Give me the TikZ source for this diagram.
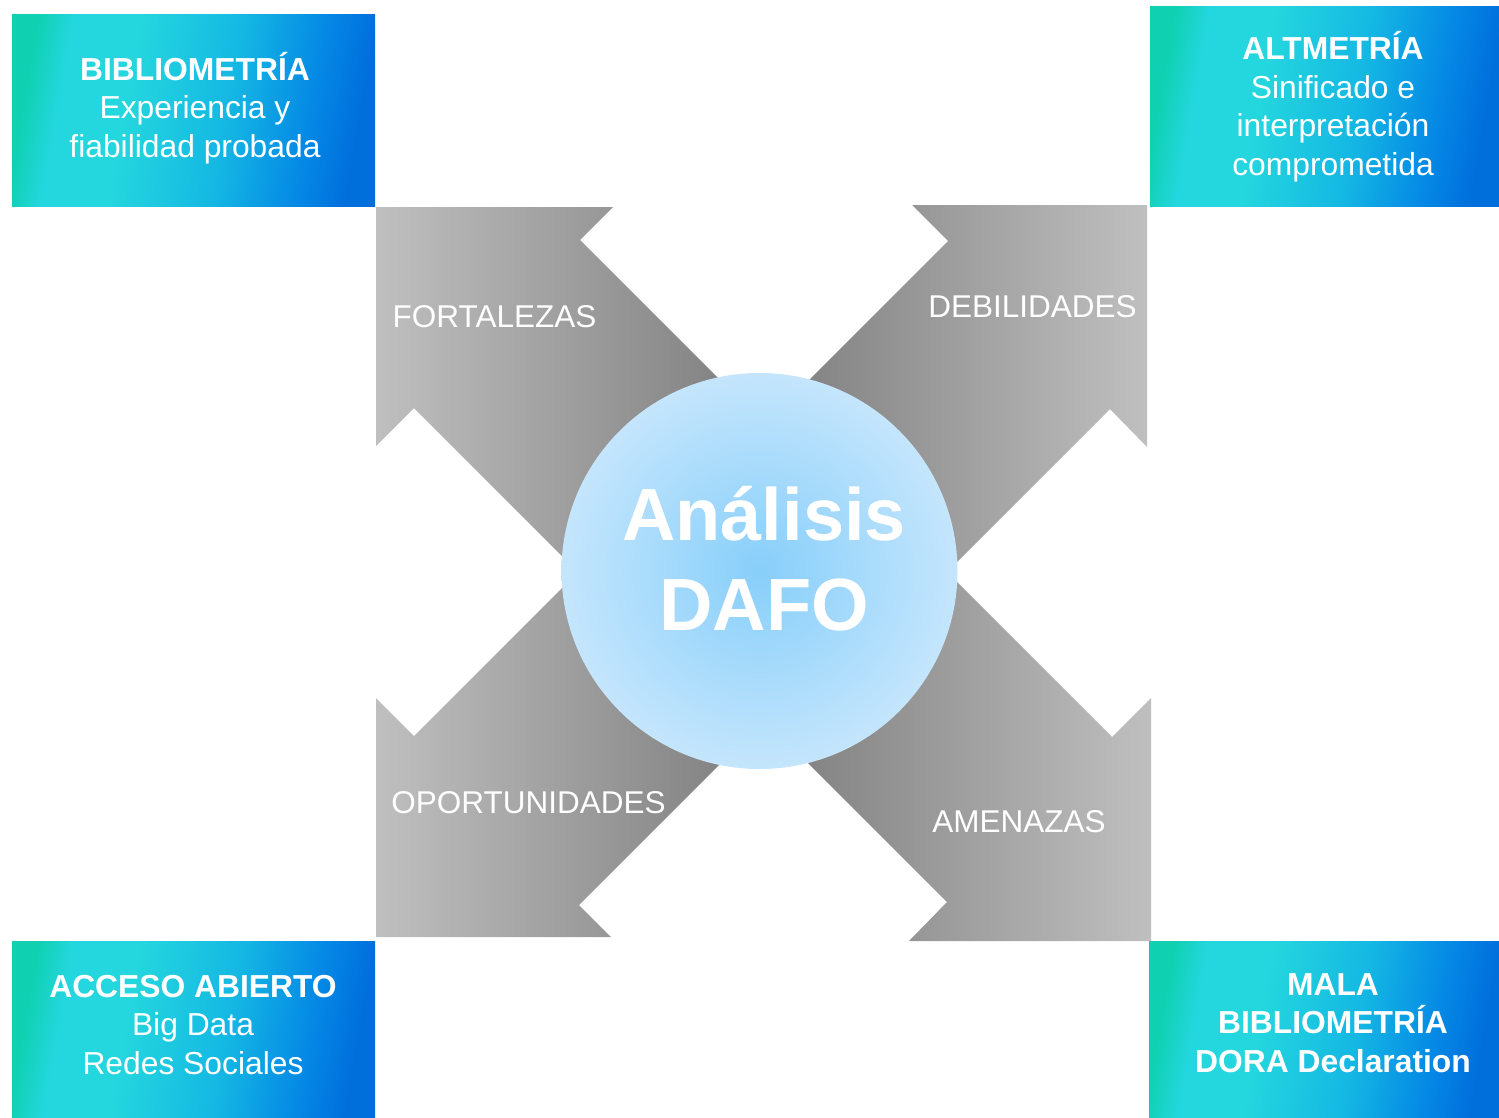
\documentclass[tikz,border=0pt]{standalone}
\usepackage{fontspec}
\setmainfont{Liberation Sans}
\usepackage{pgf,tikz}
\definecolor{bfbfbf}{rgb}{0.75,0.75,0.75}
\definecolor{gris7f}{rgb}{0.5,0.5,0.5}
\definecolor{ccqqff}{rgb}{0.53,0.81,0.98}
\definecolor{cceeff}{rgb}{0.77,0.9,0.99}
\definecolor{qqddaa}{rgb}{0.06,0.82,0.7}
\definecolor{qqddee}{rgb}{0.14,0.84,0.87}
\definecolor{qqbbee}{rgb}{0.08,0.72,0.89}
\definecolor{qq88ee}{rgb}{0.02,0.54,0.9}
\definecolor{qq55cc}{rgb}{0,0.43,0.86}
\pgfdeclarehorizontalshading{cajas}{100bp}{color(0bp)=(qqddaa); color(25bp)=(qqddaa); color(30bp)=(qqddee); color(40bp)=(qqddee); color(55bp)=(qqbbee); color(67bp)=(qq88ee); color(75bp)=(qq55cc); color(100bp)=(qq55cc)}

\begin{document}
\begin{tikzpicture}[line cap=round,line join=round,x=1pt,y=-1pt,
	caja/.style={white,align=center,anchor=base,inner sep=0pt,font=\fontsize{31.8}{38.5}\selectfont},
	etiqueta/.style={white,anchor=base,inner sep=0pt,font=\fontsize{31.5}{38}\selectfont}]
		\clip(0,0) rectangle (1499,1117);
		% flechas
		\shade[left color=bfbfbf,right color=gris7f] (376,207) -- (613,207) -- (580,240) -- (745,405) -- (578,572) -- (414,408) -- (376,446) -- cycle;
		\shade[left color=gris7f,right color=bfbfbf] (1147,205) -- (912,205) -- (948,241) -- (780,409) -- (945,574) -- (1110,409) -- (1147,447) -- cycle;
		\shade[left color=bfbfbf,right color=gris7f] (376,937) -- (376,698) -- (414,736) -- (578,572) -- (745,739) -- (579,905) -- (611,937) -- cycle;
		\shade[left color=gris7f,right color=bfbfbf] (1151,941) -- (1151,698) -- (1112,737) -- (945,570) -- (780,735) -- (947,902) -- (909,941) -- cycle;
		% circulo
		\shade[inner color=ccqqff,outer color=cceeff] (759.5,571) circle (198pt);
		% cajas
		\shade[shading=cajas,shading angle=-10] (12,14) rectangle (375,206);
		\shade[shading=cajas,shading angle=-10] (1150,6) rectangle (1499,206);
		\shade[shading=cajas,shading angle=-10] (12,941) rectangle (375,1117);
		\shade[shading=cajas,shading angle=-10] (1149,941) rectangle (1499,1117);
		\draw (195,157) node[caja] (bibliometria) {\textbf{BIBLIOMETRÍA}\\Experiencia y\\fiabilidad probada};
		\draw (1333,175) node[caja] (altmetria) {\textbf{ALTMETRÍA}\\Sinificado e\\interpretación\\comprometida};
		\draw (193,1074) node[caja] (acceso) {\textbf{ACCESO ABIERTO}\\Big Data\\Redes Sociales};
		\draw (1333,1072) node[caja] (mala) {\textbf{MALA}\\\textbf{BIBLIOMETRÍA}\\\textbf{DORA Declaration}};
		\draw (494.5,327) node[etiqueta] (fortalezas) {FORTALEZAS};
		\draw (1032.5,317) node[etiqueta] (debilidades) {DEBILIDADES};
		\draw (528.5,813) node[etiqueta] (oportunidades) {OPORTUNIDADES};
		\draw (1019,832) node[etiqueta] (amenazas) {AMENAZAS};
		\draw (764,630) node[white,anchor=base,align=center,inner sep=0pt,font=\fontsize{74}{90}\selectfont\bfseries] (dafo) {Análisis\\DAFO};
\end{tikzpicture}
\end{document}
